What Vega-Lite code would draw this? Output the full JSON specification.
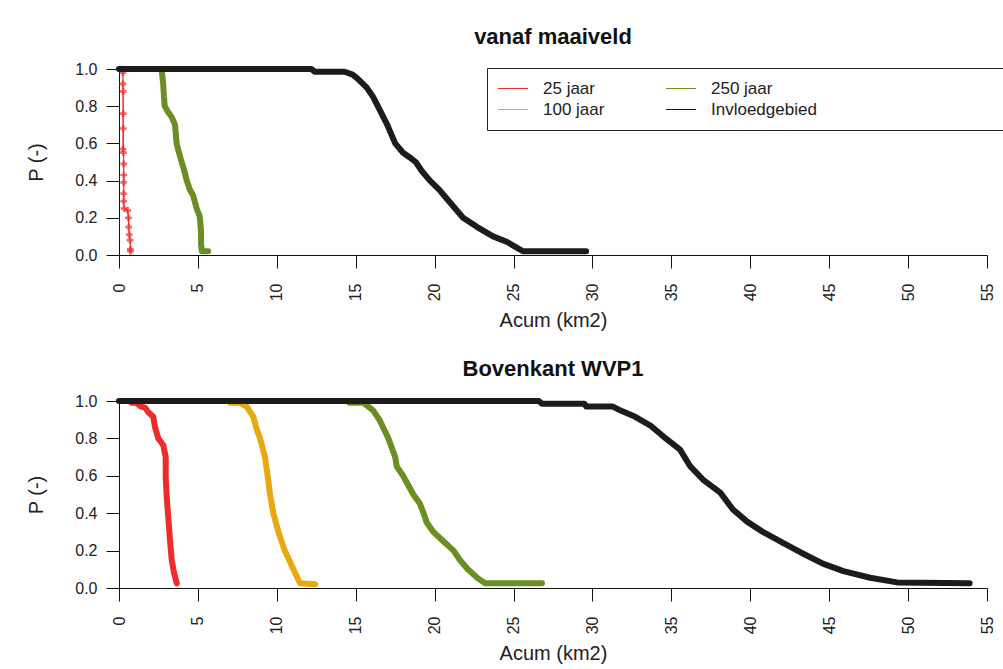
{
  "$schema": "https://vega.github.io/schema/vega-lite/v6.json",
  "padding": {"left": 26, "top": 26, "right": 5, "bottom": 5},
  "background": "white",
  "config": {
    "font": "Liberation Sans",
    "view": {"stroke": null},
    "axis": {
      "grid": false,
      "domainColor": "#111",
      "tickColor": "#111",
      "labelColor": "#222",
      "titleColor": "#222",
      "tickSize": 13,
      "labelFontSize": 16,
      "titleFontSize": 20,
      "titleFontWeight": "normal"
    },
    "title": {"fontSize": 22, "fontWeight": "bold", "color": "#111", "offset": 12}
  },
  "datasets": {
    "d": [
      {"panel": "top", "series": "25 jaar", "x": 0.2, "p": 1.0},
      {"panel": "top", "series": "25 jaar", "x": 0.25, "p": 0.98},
      {"panel": "top", "series": "25 jaar", "x": 0.25, "p": 0.92},
      {"panel": "top", "series": "25 jaar", "x": 0.27, "p": 0.88},
      {"panel": "top", "series": "25 jaar", "x": 0.27, "p": 0.76},
      {"panel": "top", "series": "25 jaar", "x": 0.27, "p": 0.68},
      {"panel": "top", "series": "25 jaar", "x": 0.25, "p": 0.57},
      {"panel": "top", "series": "25 jaar", "x": 0.28, "p": 0.55},
      {"panel": "top", "series": "25 jaar", "x": 0.3, "p": 0.49},
      {"panel": "top", "series": "25 jaar", "x": 0.3, "p": 0.43},
      {"panel": "top", "series": "25 jaar", "x": 0.3, "p": 0.39},
      {"panel": "top", "series": "25 jaar", "x": 0.3, "p": 0.33},
      {"panel": "top", "series": "25 jaar", "x": 0.3, "p": 0.29},
      {"panel": "top", "series": "25 jaar", "x": 0.32, "p": 0.25},
      {"panel": "top", "series": "25 jaar", "x": 0.55, "p": 0.24},
      {"panel": "top", "series": "25 jaar", "x": 0.6, "p": 0.2},
      {"panel": "top", "series": "25 jaar", "x": 0.62, "p": 0.15},
      {"panel": "top", "series": "25 jaar", "x": 0.65, "p": 0.11},
      {"panel": "top", "series": "25 jaar", "x": 0.7, "p": 0.08},
      {"panel": "top", "series": "25 jaar", "x": 0.72, "p": 0.03},
      {"panel": "top", "series": "25 jaar", "x": 0.73, "p": 0.02},
      {"panel": "top", "series": "250 jaar", "x": 1.8, "p": 1.0},
      {"panel": "top", "series": "250 jaar", "x": 2.7, "p": 1.0},
      {"panel": "top", "series": "250 jaar", "x": 2.8, "p": 0.92},
      {"panel": "top", "series": "250 jaar", "x": 2.85, "p": 0.85},
      {"panel": "top", "series": "250 jaar", "x": 2.9, "p": 0.8},
      {"panel": "top", "series": "250 jaar", "x": 3.1, "p": 0.77},
      {"panel": "top", "series": "250 jaar", "x": 3.35, "p": 0.74},
      {"panel": "top", "series": "250 jaar", "x": 3.55, "p": 0.7},
      {"panel": "top", "series": "250 jaar", "x": 3.6, "p": 0.65},
      {"panel": "top", "series": "250 jaar", "x": 3.65, "p": 0.6},
      {"panel": "top", "series": "250 jaar", "x": 3.8, "p": 0.55},
      {"panel": "top", "series": "250 jaar", "x": 3.97, "p": 0.5},
      {"panel": "top", "series": "250 jaar", "x": 4.15, "p": 0.45},
      {"panel": "top", "series": "250 jaar", "x": 4.29, "p": 0.4},
      {"panel": "top", "series": "250 jaar", "x": 4.5, "p": 0.35},
      {"panel": "top", "series": "250 jaar", "x": 4.7, "p": 0.32},
      {"panel": "top", "series": "250 jaar", "x": 4.92, "p": 0.25},
      {"panel": "top", "series": "250 jaar", "x": 5.1, "p": 0.21},
      {"panel": "top", "series": "250 jaar", "x": 5.15, "p": 0.18},
      {"panel": "top", "series": "250 jaar", "x": 5.2, "p": 0.12},
      {"panel": "top", "series": "250 jaar", "x": 5.2, "p": 0.06},
      {"panel": "top", "series": "250 jaar", "x": 5.25, "p": 0.02},
      {"panel": "top", "series": "250 jaar", "x": 5.65, "p": 0.02},
      {"panel": "top", "series": "Invloedgebied", "x": 0, "p": 1.0},
      {"panel": "top", "series": "Invloedgebied", "x": 12.2, "p": 1.0},
      {"panel": "top", "series": "Invloedgebied", "x": 12.4, "p": 0.985},
      {"panel": "top", "series": "Invloedgebied", "x": 14.3, "p": 0.985},
      {"panel": "top", "series": "Invloedgebied", "x": 14.8, "p": 0.97},
      {"panel": "top", "series": "Invloedgebied", "x": 15.1, "p": 0.95},
      {"panel": "top", "series": "Invloedgebied", "x": 15.7, "p": 0.9},
      {"panel": "top", "series": "Invloedgebied", "x": 16.1, "p": 0.85},
      {"panel": "top", "series": "Invloedgebied", "x": 16.4, "p": 0.8},
      {"panel": "top", "series": "Invloedgebied", "x": 17.0, "p": 0.7},
      {"panel": "top", "series": "Invloedgebied", "x": 17.5, "p": 0.6},
      {"panel": "top", "series": "Invloedgebied", "x": 18.0, "p": 0.55},
      {"panel": "top", "series": "Invloedgebied", "x": 18.5, "p": 0.52},
      {"panel": "top", "series": "Invloedgebied", "x": 18.8, "p": 0.5},
      {"panel": "top", "series": "Invloedgebied", "x": 19.2, "p": 0.45},
      {"panel": "top", "series": "Invloedgebied", "x": 19.7, "p": 0.4},
      {"panel": "top", "series": "Invloedgebied", "x": 20.3, "p": 0.35},
      {"panel": "top", "series": "Invloedgebied", "x": 20.8, "p": 0.3},
      {"panel": "top", "series": "Invloedgebied", "x": 21.3, "p": 0.25},
      {"panel": "top", "series": "Invloedgebied", "x": 21.8, "p": 0.2},
      {"panel": "top", "series": "Invloedgebied", "x": 22.7, "p": 0.15},
      {"panel": "top", "series": "Invloedgebied", "x": 23.7, "p": 0.1},
      {"panel": "top", "series": "Invloedgebied", "x": 24.6, "p": 0.07},
      {"panel": "top", "series": "Invloedgebied", "x": 25.2, "p": 0.04},
      {"panel": "top", "series": "Invloedgebied", "x": 25.6, "p": 0.02},
      {"panel": "top", "series": "Invloedgebied", "x": 29.6, "p": 0.02},
      {"panel": "bottom", "series": "25 jaar", "x": 0.8, "p": 0.99},
      {"panel": "bottom", "series": "25 jaar", "x": 1.1, "p": 0.99},
      {"panel": "bottom", "series": "25 jaar", "x": 1.4, "p": 0.97},
      {"panel": "bottom", "series": "25 jaar", "x": 1.65, "p": 0.965},
      {"panel": "bottom", "series": "25 jaar", "x": 1.86, "p": 0.94},
      {"panel": "bottom", "series": "25 jaar", "x": 2.17, "p": 0.916},
      {"panel": "bottom", "series": "25 jaar", "x": 2.28, "p": 0.86},
      {"panel": "bottom", "series": "25 jaar", "x": 2.49, "p": 0.8},
      {"panel": "bottom", "series": "25 jaar", "x": 2.8, "p": 0.765},
      {"panel": "bottom", "series": "25 jaar", "x": 2.96, "p": 0.7},
      {"panel": "bottom", "series": "25 jaar", "x": 2.96, "p": 0.595},
      {"panel": "bottom", "series": "25 jaar", "x": 3.02, "p": 0.49},
      {"panel": "bottom", "series": "25 jaar", "x": 3.12, "p": 0.38},
      {"panel": "bottom", "series": "25 jaar", "x": 3.23, "p": 0.257},
      {"panel": "bottom", "series": "25 jaar", "x": 3.34, "p": 0.15},
      {"panel": "bottom", "series": "25 jaar", "x": 3.49, "p": 0.08},
      {"panel": "bottom", "series": "25 jaar", "x": 3.66, "p": 0.025},
      {"panel": "bottom", "series": "100 jaar", "x": 7.03, "p": 0.99},
      {"panel": "bottom", "series": "100 jaar", "x": 7.67, "p": 0.99},
      {"panel": "bottom", "series": "100 jaar", "x": 8.09, "p": 0.97},
      {"panel": "bottom", "series": "100 jaar", "x": 8.51, "p": 0.916},
      {"panel": "bottom", "series": "100 jaar", "x": 8.72, "p": 0.85},
      {"panel": "bottom", "series": "100 jaar", "x": 8.94, "p": 0.8},
      {"panel": "bottom", "series": "100 jaar", "x": 9.25, "p": 0.7},
      {"panel": "bottom", "series": "100 jaar", "x": 9.42, "p": 0.6},
      {"panel": "bottom", "series": "100 jaar", "x": 9.57, "p": 0.5},
      {"panel": "bottom", "series": "100 jaar", "x": 9.78, "p": 0.4},
      {"panel": "bottom", "series": "100 jaar", "x": 10.1, "p": 0.3},
      {"panel": "bottom", "series": "100 jaar", "x": 10.5, "p": 0.2},
      {"panel": "bottom", "series": "100 jaar", "x": 11.05, "p": 0.1},
      {"panel": "bottom", "series": "100 jaar", "x": 11.47, "p": 0.025},
      {"panel": "bottom", "series": "100 jaar", "x": 12.42, "p": 0.02},
      {"panel": "bottom", "series": "250 jaar", "x": 14.6, "p": 0.99},
      {"panel": "bottom", "series": "250 jaar", "x": 15.5, "p": 0.99},
      {"panel": "bottom", "series": "250 jaar", "x": 16.1, "p": 0.95},
      {"panel": "bottom", "series": "250 jaar", "x": 16.5, "p": 0.9},
      {"panel": "bottom", "series": "250 jaar", "x": 17.07, "p": 0.8},
      {"panel": "bottom", "series": "250 jaar", "x": 17.5, "p": 0.7},
      {"panel": "bottom", "series": "250 jaar", "x": 17.6, "p": 0.65},
      {"panel": "bottom", "series": "250 jaar", "x": 18.0, "p": 0.6},
      {"panel": "bottom", "series": "250 jaar", "x": 18.65, "p": 0.5},
      {"panel": "bottom", "series": "250 jaar", "x": 19.07, "p": 0.45},
      {"panel": "bottom", "series": "250 jaar", "x": 19.3, "p": 0.4},
      {"panel": "bottom", "series": "250 jaar", "x": 19.5, "p": 0.35},
      {"panel": "bottom", "series": "250 jaar", "x": 19.92, "p": 0.3},
      {"panel": "bottom", "series": "250 jaar", "x": 20.55, "p": 0.25},
      {"panel": "bottom", "series": "250 jaar", "x": 21.2, "p": 0.2},
      {"panel": "bottom", "series": "250 jaar", "x": 21.6, "p": 0.15},
      {"panel": "bottom", "series": "250 jaar", "x": 22.1, "p": 0.1},
      {"panel": "bottom", "series": "250 jaar", "x": 22.77, "p": 0.05},
      {"panel": "bottom", "series": "250 jaar", "x": 23.2, "p": 0.025},
      {"panel": "bottom", "series": "250 jaar", "x": 26.8, "p": 0.025},
      {"panel": "bottom", "series": "Invloedgebied", "x": 0, "p": 1.0},
      {"panel": "bottom", "series": "Invloedgebied", "x": 26.6, "p": 1.0},
      {"panel": "bottom", "series": "Invloedgebied", "x": 26.8, "p": 0.985},
      {"panel": "bottom", "series": "Invloedgebied", "x": 29.5, "p": 0.985},
      {"panel": "bottom", "series": "Invloedgebied", "x": 29.6, "p": 0.97},
      {"panel": "bottom", "series": "Invloedgebied", "x": 31.3, "p": 0.97},
      {"panel": "bottom", "series": "Invloedgebied", "x": 31.75, "p": 0.95},
      {"panel": "bottom", "series": "Invloedgebied", "x": 32.6, "p": 0.92},
      {"panel": "bottom", "series": "Invloedgebied", "x": 33.65, "p": 0.87},
      {"panel": "bottom", "series": "Invloedgebied", "x": 34.5, "p": 0.81},
      {"panel": "bottom", "series": "Invloedgebied", "x": 35.55, "p": 0.74},
      {"panel": "bottom", "series": "Invloedgebied", "x": 36.2, "p": 0.65},
      {"panel": "bottom", "series": "Invloedgebied", "x": 37.0, "p": 0.58},
      {"panel": "bottom", "series": "Invloedgebied", "x": 38.1, "p": 0.51},
      {"panel": "bottom", "series": "Invloedgebied", "x": 38.9, "p": 0.42},
      {"panel": "bottom", "series": "Invloedgebied", "x": 39.8, "p": 0.355},
      {"panel": "bottom", "series": "Invloedgebied", "x": 40.8, "p": 0.3},
      {"panel": "bottom", "series": "Invloedgebied", "x": 42.1, "p": 0.24},
      {"panel": "bottom", "series": "Invloedgebied", "x": 43.2, "p": 0.19},
      {"panel": "bottom", "series": "Invloedgebied", "x": 44.6, "p": 0.13},
      {"panel": "bottom", "series": "Invloedgebied", "x": 45.9, "p": 0.09},
      {"panel": "bottom", "series": "Invloedgebied", "x": 47.6, "p": 0.055},
      {"panel": "bottom", "series": "Invloedgebied", "x": 49.3, "p": 0.03},
      {"panel": "bottom", "series": "Invloedgebied", "x": 53.9, "p": 0.025}
    ]
  },
  "spacing": 27,
  "resolve": {"scale": {"color": "independent"}, "legend": {"color": "independent"}},
  "vconcat": [
    {
      "title": "vanaf maaiveld",
      "width": 868,
      "height": 186,
      "data": {"name": "d"},
      "transform": [{"filter": "datum.panel === 'top'"}],
      "encoding": {
        "x": {"field": "x", "type": "quantitative", "scale": {"domain": [0, 55], "nice": false, "zero": false},
              "axis": {"values": [0,5,10,15,20,25,30,35,40,45,50,55], "labelAngle": -90, "labelAlign": "right", "labelBaseline": "middle", "labelPadding": 15, "title": "Acum (km2)", "titlePadding": 10}},
        "y": {"field": "p", "type": "quantitative", "scale": {"domain": [0, 1], "nice": false},
              "axis": {"values": [0,0.2,0.4,0.6,0.8,1.0], "format": ".1f", "labelPadding": 9, "title": "P (-)", "titlePadding": 28}},
        "color": {"field": "series", "type": "nominal",
                  "scale": {"domain": ["25 jaar", "100 jaar", "250 jaar", "Invloedgebied"], "range": ["#EE2C2C", "#E8A90E", "#6B8E23", "#1C1C1C"]},
                  "legend": {"orient": "none", "legendX": 368, "legendY": -1, "columns": 2,
                             "title": "\u00a0", "titleOrient": "right", "titlePadding": 230,
                             "symbolType": "stroke", "symbolStrokeWidth": 1.2, "symbolSize": 900,
                             "strokeColor": "#222", "fillColor": "white", "padding": 10, "clipHeight": 21,
                             "rowPadding": 0, "columnPadding": 60, "labelFontSize": 17, "labelColor": "#222", "labelOffset": 14}}
      },
      "layer": [
        {"transform": [{"filter": "datum.series === '25 jaar'"}],
         "mark": {"type": "line", "strokeWidth": 1.2}},
        {"transform": [{"filter": "datum.series === '25 jaar'"}],
         "mark": {"type": "point", "shape": "cross", "size": 45, "filled": true},
         "encoding": {"color": {"value": "#EE2C2C"}}},
        {"transform": [{"filter": "datum.series !== '25 jaar'"}],
         "mark": {"type": "line", "strokeWidth": 6, "strokeCap": "round", "strokeJoin": "round"}}
      ]
    },
    {
      "title": "Bovenkant WVP1",
      "width": 868,
      "height": 187,
      "data": {"name": "d"},
      "transform": [{"filter": "datum.panel === 'bottom'"}],
      "encoding": {
        "x": {"field": "x", "type": "quantitative", "scale": {"domain": [0, 55], "nice": false, "zero": false},
              "axis": {"values": [0,5,10,15,20,25,30,35,40,45,50,55], "labelAngle": -90, "labelAlign": "right", "labelBaseline": "middle", "labelPadding": 15, "title": "Acum (km2)", "titlePadding": 10}},
        "y": {"field": "p", "type": "quantitative", "scale": {"domain": [0, 1], "nice": false},
              "axis": {"values": [0,0.2,0.4,0.6,0.8,1.0], "format": ".1f", "labelPadding": 9, "title": "P (-)", "titlePadding": 28}},
        "color": {"field": "series", "type": "nominal",
                  "scale": {"domain": ["25 jaar", "100 jaar", "250 jaar", "Invloedgebied"], "range": ["#EE2C2C", "#E8A90E", "#6B8E23", "#1C1C1C"]},
                  "legend": null}
      },
      "mark": {"type": "line", "strokeWidth": 6, "strokeCap": "round", "strokeJoin": "round"}
    }
  ]
}
